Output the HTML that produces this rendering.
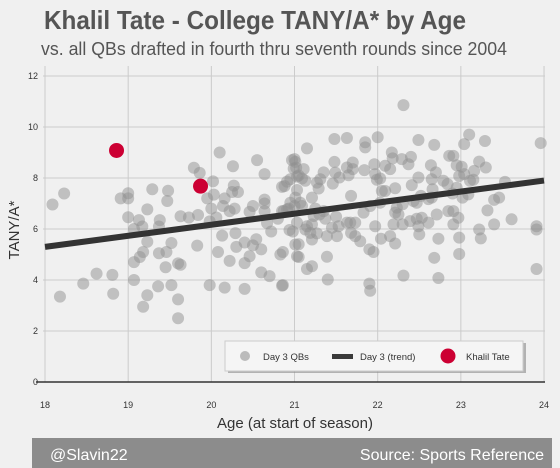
<!DOCTYPE html>
<html><head><meta charset="utf-8"><style>
body{margin:0;background:#f0f0f0;font-family:"Liberation Sans",sans-serif;}
#wrap{position:relative;width:560px;height:468px;overflow:hidden;background:#f0f0f0;}
</style></head><body>
<div id="wrap">
<svg id="svg" width="560" height="468" xmlns="http://www.w3.org/2000/svg">
<text x="44" y="29" font-size="26" font-weight="bold" fill="#555" font-family="Liberation Sans" textLength="422" lengthAdjust="spacingAndGlyphs">Khalil Tate - College TANY/A* by Age</text>
<text x="41" y="55" font-size="18.5" fill="#555" font-family="Liberation Sans" textLength="466" lengthAdjust="spacingAndGlyphs">vs. all QBs drafted in fourth thru seventh rounds since 2004</text>
<g id="grid"></g>
<g id="marks"></g>
<text transform="translate(19,230) rotate(-90)" text-anchor="middle" font-size="15" fill="#333" font-family="Liberation Sans">TANY/A*</text>
<text x="295" y="428" text-anchor="middle" font-size="15" fill="#333" font-family="Liberation Sans">Age (at start of season)</text>
<g>
<rect x="228" y="343" width="298" height="30" fill="#888" opacity="0.6"/>
<rect x="225" y="341" width="298" height="30" fill="#f5f5f5" stroke="#ccc"/>
<circle cx="245" cy="356" r="5" fill="#bbb"/>
<text x="263" y="360" font-size="9.5" fill="#333">Day 3 QBs</text>
<rect x="332" y="354" width="21" height="5" fill="#3a3a3a"/>
<text x="360" y="360" font-size="9.5" fill="#333">Day 3 (trend)</text>
<circle cx="448" cy="356" r="7.5" fill="#cc0033"/>
<text x="466" y="360" font-size="9.5" fill="#333">Khalil Tate</text>
</g>
<rect x="32" y="438" width="520" height="30" fill="#8c8c8c"/>
<text x="50" y="460" font-size="16" fill="#fff">@Slavin22</text>
<text x="544" y="460" text-anchor="end" font-size="16" fill="#fff">Source: Sports Reference</text>
</svg>
</div>
<script>
const xTicks=[18,19,20,21,22,23,24];
const yTicks=[0,2,4,6,8,10,12];
const qbAges=[18.09,18.23,18.18,18.46,18.62,18.81,18.82,18.91,19.0,19.0,19.0,19.07,19.13,19.17,19.23,19.29,19.48,19.47,19.38,19.37,19.23,19.18,19.14,19.07,19.37,19.46,19.52,19.45,19.6,19.63,19.07,19.23,19.36,19.52,19.18,19.6,19.6,19.63,19.73,19.84,19.79,19.86,19.83,19.98,20.16,20.4,19.95,20.03,20.02,20.0,19.98,20.06,20.1,20.26,20.27,20.25,20.32,20.16,20.14,20.22,20.28,20.13,20.08,20.22,20.3,20.29,20.4,20.46,20.4,20.5,20.54,20.6,20.6,20.7,20.86,20.55,20.64,20.46,20.5,20.64,20.64,20.64,20.67,20.72,20.8,20.86,20.98,21.05,21.05,20.88,20.95,21.0,21.02,21.05,20.87,20.93,21.0,
22.31,21.48,21.63,21.85,21.85,22.0,21.15,22.49,22.68,23.1,23.04,23.29,23.96,22.17,22.18,22.29,22.37,22.4,22.86,22.91,22.95,23.01,23.22,23.3,23.16,22.64,22.7,22.65,22.79,22.84,22.98,23.04,23.11,23.15,23.53,21.96,22.09,22.15,21.84,21.97,21.99,22.03,21.48,21.49,21.63,21.7,21.7,21.65,21.54,21.46,20.97,21.01,20.99,21.11,21.03,21.09,21.13,20.91,20.85,21.27,21.31,21.29,21.35,21.21,21.03,21.01,20.95,21.07,21.09,20.91,20.85,21.25,21.23,21.35,21.3,21.03,21.15,21.21,20.94,21.13,21.19,21.27,21.21,21.01,21.03,20.83,21.15,21.21,21.39,21.4,20.85,21.39,21.51,21.37,21.5,21.45,21.53,21.63,21.67,21.73,21.68,21.73,21.79,21.68,21.83,21.91,22.03,22.05,22.09,22.21,21.9,21.95,21.9,21.91,22.04,21.97,22.15,22.21,22.19,22.3,22.21,22.25,22.23,22.3,22.31,22.68,22.73,22.98,22.39,22.47,22.53,22.49,22.5,22.61,22.71,22.73,22.41,22.49,22.43,22.52,22.61,22.65,22.66,22.47,22.85,22.91,22.91,22.97,22.98,22.9,22.95,23.02,23.09,23.22,23.24,23.32,23.4,23.4,23.46,23.61,23.91,23.91,23.91];
const qbValues=[6.96,7.39,3.35,3.86,4.25,4.2,3.46,7.2,7.4,7.2,6.46,6.0,6.35,6.1,6.77,7.56,7.5,7.1,6.35,6.1,5.5,5.1,4.9,4.7,5.05,5.1,5.45,4.5,4.65,4.6,4.0,3.4,3.75,3.8,2.95,3.24,2.5,6.5,6.45,6.55,8.4,8.2,5.35,3.8,3.7,3.65,7.2,7.35,7.87,6.8,6.3,6.45,9.0,8.46,7.7,7.45,7.45,7.2,6.9,6.7,6.8,5.74,5.1,4.75,5.3,5.84,4.66,4.93,5.47,5.36,5.6,5.2,4.3,4.15,3.8,8.7,8.15,6.67,6.9,7.15,7.0,6.7,6.23,5.9,6.4,5.1,5.9,5.4,4.9,7.68,7.95,8.74,8.4,8.1,6.7,6.8,6.9,
10.86,9.53,9.57,9.4,9.2,9.6,9.16,9.49,9.3,9.7,9.33,9.45,9.37,9.0,8.77,8.74,8.54,8.83,8.87,8.87,8.5,8.44,8.64,8.41,8.28,8.5,8.22,7.95,7.89,7.76,8.08,8.15,7.89,7.93,7.85,8.54,8.48,8.35,8.31,8.15,7.93,7.98,8.63,8.21,8.41,8.61,8.35,8.11,8.02,7.78,8.7,8.63,8.37,8.35,8.06,7.98,7.89,7.86,7.65,7.82,7.95,7.59,8.22,7.23,7.53,7.23,7.03,7.03,6.9,6.77,6.7,6.8,6.51,6.7,6.57,6.25,6.11,6.18,5.96,5.98,5.85,5.83,5.59,5.39,4.93,5.0,4.43,4.54,4.91,4.02,3.78,5.72,5.72,6.4,6.48,6.05,6.11,6.25,6.25,6.25,5.85,5.72,5.52,7.3,6.64,6.9,7.03,7.49,7.49,7.6,5.2,5.1,3.86,3.58,5.62,6.11,5.72,5.43,6.18,6.18,6.64,6.57,6.84,6.97,4.17,4.87,4.08,5.02,6.31,6.4,6.44,6.11,5.79,6.25,6.57,5.62,7.72,8.02,7.1,7.3,7.17,7.23,7.56,7.03,6.7,6.7,6.18,6.44,5.66,7.39,7.62,7.23,7.36,5.98,5.63,6.73,6.18,7.14,7.23,6.38,6.11,5.98,4.43];
const trendAges=[18,24];
const trendValues=[5.3,7.9];
const tateAges=[18.86,19.87];
const tateValues=[9.08,7.68];

const NS="http://www.w3.org/2000/svg";
const X=a=>45+(a-18)*83.17;
const Y=v=>382-v*25.5;
function mk(tag,attrs,parent){const e=document.createElementNS(NS,tag);for(const k in attrs)e.setAttribute(k,attrs[k]);parent.appendChild(e);return e;}
const grid=document.getElementById('grid'),marks=document.getElementById('marks');
yTicks.forEach(t=>{
  if(t>0){const l=mk('line',{x1:43,x2:545,y1:Y(t),y2:Y(t),stroke:'#cbcbcb','stroke-width':1},grid);
  
  }
  const tx=mk('text',{x:38,y:Y(t)+3,'text-anchor':'end','font-size':9,fill:'#333','font-family':'Liberation Sans'},grid);
  tx.textContent=t;
  
  
});
xTicks.forEach(t=>{
  const l=mk('line',{x1:X(t),x2:X(t),y1:66,y2:382,stroke:'#cbcbcb','stroke-width':1},grid);
  
  
  const tx=mk('text',{x:X(t),y:408,'text-anchor':'middle','font-size':9,fill:'#333','font-family':'Liberation Sans'},grid);
  tx.textContent=t;
  
  
});
const base=mk('line',{x1:36,x2:545,y1:Y(0),y2:Y(0),stroke:'#333','stroke-width':1.5},grid);


qbAges.forEach((a,i)=>{
  const c=mk('circle',{cx:X(a),cy:Y(qbValues[i]),r:6,fill:'#8f8f8f','fill-opacity':0.5},marks);
  
  
});
const tl=mk('line',{x1:X(trendAges[0]),y1:Y(trendValues[0]),x2:X(trendAges[1]),y2:Y(trendValues[1]),stroke:'#333','stroke-width':6},marks);


tateAges.forEach((a,i)=>{
  const c=mk('circle',{cx:X(a),cy:Y(tateValues[i]),r:7.5,fill:'#cc0033'},marks);
  
  
});
</script>
</body></html>
